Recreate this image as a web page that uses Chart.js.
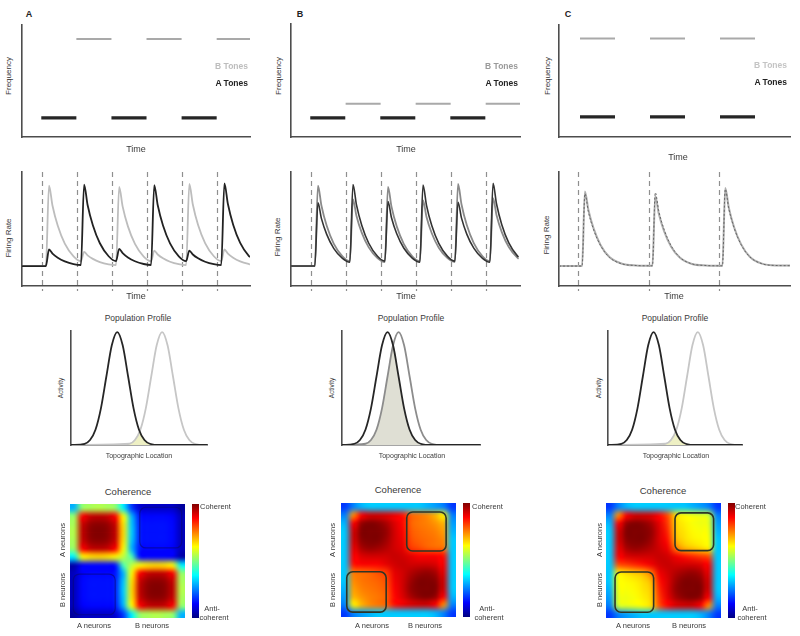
<!DOCTYPE html>
<html>
<head>
<meta charset="utf-8">
<script src="https://cdn.jsdelivr.net/npm/chart.js@4.4.1/dist/chart.umd.min.js"></script>
<style>
body { margin: 0; background: #fff; }
#fig { position: relative; width: 800px; height: 636px; overflow: hidden; font-family: "Liberation Sans", Arial, sans-serif; color: #3a3a3a; background: #fff; }
#fig canvas { position: absolute; }
.lbl { position: absolute; white-space: nowrap; transform: translate(-50%, -50%); line-height: 1; }
.rot { transform: translate(-50%, -50%) rotate(-90deg); }
.right { transform: translate(-100%, -50%); }
</style>
</head>
<body>
<div id="fig"></div>
<script>
// ---- tone sequences (time units, frequency 0-10) ----
const toneLength = 1;
const aTonesA = [0.55, 2.55, 4.55];
const bTonesA = [1.55, 3.55, 5.55];
const freqA = [1.7, 8.75];          // A tones, B tones
const aTonesB = [0.55, 2.55, 4.55];
const bTonesB = [1.56, 3.56, 5.56];
const freqB = [1.7, 2.95];
const aTonesC = [0.6, 2.6, 4.6];
const bTonesC = [0.6, 2.6, 4.6];
const freqC = [1.8, 8.8];

// ---- firing rate traces ----
const onsetsAB = [0.57, 1.57, 2.57, 3.57, 4.57, 5.57];
const onsetsC = [0.55, 2.56, 4.56];
const rateTimeAB = [0,
  0.68, 0.77, 0.87, 1.02, 1.22, 1.47,
  1.68, 1.77, 1.87, 2.02, 2.22, 2.47,
  2.68, 2.77, 2.87, 3.02, 3.22, 3.47,
  3.68, 3.77, 3.87, 4.02, 4.22, 4.47,
  4.68, 4.77, 4.87, 5.02, 5.22, 5.47,
  5.68, 5.77, 5.87, 6.02, 6.22, 6.47,
  6.5];
const rateBlackA = [1.75,
  1.75, 3.2, 2.84, 2.48, 2.16, 1.92,
  1.84, 8.9, 7.11, 5.33, 3.75, 2.61,
  2.18, 3.25, 2.88, 2.5, 2.17, 1.93,
  1.84, 8.85, 7.08, 5.3, 3.74, 2.6,
  2.18, 3.1, 2.76, 2.43, 2.13, 1.91,
  1.83, 9.0, 7.19, 5.38, 3.78, 2.62,
  2.55];
const rateGrayA = [1.75,
  1.75, 8.8, 7.04, 5.28, 3.72, 2.6,
  2.17, 3.0, 2.69, 2.38, 2.1, 1.9,
  1.83, 8.7, 6.96, 5.23, 3.7, 2.58,
  2.17, 3.1, 2.76, 2.43, 2.13, 1.91,
  1.83, 8.95, 7.15, 5.35, 3.77, 2.61,
  2.18, 3.2, 2.84, 2.48, 2.16, 1.92,
  1.9];
const rateBlackB = [1.75,
  1.75, 7.3, 5.91, 4.53, 3.3, 2.42,
  2.08, 8.9, 7.11, 5.33, 3.75, 2.61,
  2.18, 7.4, 5.99, 4.58, 3.33, 2.43,
  2.09, 8.85, 7.08, 5.3, 3.74, 2.6,
  2.18, 7.35, 5.95, 4.55, 3.32, 2.42,
  2.08, 9.0, 7.19, 5.38, 3.78, 2.62,
  2.55];
const rateGrayB = [1.75,
  1.75, 8.8, 7.04, 5.28, 3.72, 2.6,
  2.17, 7.6, 6.14, 4.68, 3.39, 2.45,
  2.1, 8.7, 6.96, 5.23, 3.7, 2.58,
  2.17, 7.5, 6.06, 4.63, 3.36, 2.44,
  2.1, 8.95, 7.15, 5.35, 3.77, 2.61,
  2.18, 7.7, 6.21, 4.73, 3.42, 2.46,
  2.4];
const rateTimeC = [0,
  0.66, 0.74, 0.84, 0.99, 1.19, 1.44, 1.8, 2.2,
  2.67, 2.75, 2.85, 3.0, 3.2, 3.45, 3.8, 4.2,
  4.67, 4.75, 4.85, 5.0, 5.2, 5.45, 5.8, 6.2,
  6.6];
const rateDarkC = [1.75,
  1.75, 8.1, 6.51, 4.93, 3.53, 2.51, 1.94, 1.8,
  1.77, 8.2, 6.59, 4.98, 3.56, 2.52, 1.94, 1.8,
  1.77, 8.5, 6.81, 5.13, 3.64, 2.56, 1.95, 1.8,
  1.78];
const rateGrayC = [1.75,
  1.75, 8.3, 6.66, 5.03, 3.58, 2.54, 1.95, 1.8,
  1.77, 7.9, 6.36, 4.83, 3.47, 2.49, 1.93, 1.8,
  1.77, 8.6, 6.89, 5.18, 3.67, 2.57, 1.96, 1.8,
  1.79];

// ---- population profiles (location 0-100, activity 0-1) ----
const activity = [0, 0.011, 0.044, 0.135, 0.325, 0.607, 0.883, 1, 0.883, 0.607, 0.325, 0.135, 0.044, 0.011, 0, 0];
const blackLocA = [0, 10, 14, 18, 22, 26, 30, 34, 38, 42, 46, 50, 54, 58, 66, 100];
const grayLocA = [0, 43, 47, 51, 55, 59, 63, 67, 71, 75, 79, 83, 87, 91, 99, 100];
const overlapLocA = [40, 44, 48, 50.5, 53, 57, 61];
const overlapActA = [0.003, 0.016, 0.066, 0.119, 0.066, 0.016, 0.003];
const blackLocB = [0, 9, 13, 17, 21, 25, 29, 33, 37, 41, 45, 49, 53, 57, 65, 100];
const grayLocB = [0, 17, 21, 25, 29, 33, 37, 41, 45, 49, 53, 57, 61, 65, 73, 100];
const overlapLocB = [9, 13, 17, 21, 25, 29, 33, 37, 41, 45, 49, 53, 57, 61, 65];
const overlapActB = [0, 0.002, 0.011, 0.044, 0.135, 0.325, 0.607, 0.883, 0.607, 0.325, 0.135, 0.044, 0.011, 0.002, 0];
const blackLocC = [0, 10, 14, 18, 22, 26, 30, 34, 38, 42, 46, 50, 54, 58, 66, 100];
const grayLocC = [0, 43, 47, 51, 55, 59, 63, 67, 71, 75, 79, 83, 87, 91, 99, 100];
const overlapLocC = [40, 44, 48, 50.5, 53, 57, 61];
const overlapActC = [0.003, 0.016, 0.066, 0.119, 0.066, 0.016, 0.003];

// ---- coherence matrices (0 = anti-coherent, 1 = coherent) ----
const coherenceA = [
  [.30,.52,.54,.55,.54,.52,.36,.18,.08,.07,.07,.07,.07,.03],
  [.52,.88,.93,.94,.93,.88,.62,.30,.14,.13,.13,.13,.12,.06],
  [.54,.93,.98,.99,.98,.93,.65,.32,.15,.14,.14,.14,.13,.06],
  [.55,.94,.99,1.0,.99,.94,.66,.33,.15,.14,.14,.14,.13,.06],
  [.54,.93,.98,.99,.98,.93,.65,.32,.15,.14,.14,.14,.13,.06],
  [.52,.88,.93,.94,.93,.88,.62,.30,.14,.13,.13,.13,.12,.06],
  [.36,.62,.65,.66,.65,.62,.56,.45,.14,.13,.13,.13,.12,.04],
  [.04,.12,.13,.13,.13,.14,.45,.56,.62,.65,.66,.65,.62,.36],
  [.06,.12,.13,.13,.13,.14,.30,.62,.88,.93,.94,.93,.88,.52],
  [.06,.13,.14,.14,.14,.15,.32,.65,.93,.98,.99,.98,.93,.54],
  [.06,.13,.14,.14,.14,.15,.33,.66,.94,.99,1.0,.99,.94,.55],
  [.06,.13,.14,.14,.14,.15,.32,.65,.93,.98,.99,.98,.93,.54],
  [.06,.12,.13,.13,.13,.14,.30,.62,.88,.93,.94,.93,.88,.52],
  [.03,.07,.07,.07,.07,.08,.18,.36,.52,.54,.55,.54,.52,.30]
];
const coherenceB = [
  [.18,.25,.30,.32,.32,.32,.32,.32,.32,.32,.30,.28,.25,.18],
  [.25,.74,.88,.92,.92,.91,.89,.86,.78,.76,.74,.70,.64,.25],
  [.30,.88,.98,1.0,.99,.96,.91,.87,.78,.76,.75,.73,.70,.28],
  [.32,.92,1.0,1.0,1.0,.98,.92,.88,.79,.77,.76,.75,.72,.30],
  [.32,.92,.99,1.0,1.0,.97,.92,.89,.80,.78,.77,.76,.74,.32],
  [.32,.90,.96,.98,.97,.95,.92,.90,.82,.80,.78,.77,.76,.32],
  [.32,.88,.91,.92,.92,.92,.93,.92,.90,.88,.88,.88,.86,.32],
  [.32,.86,.88,.88,.88,.90,.92,.93,.92,.92,.92,.91,.88,.32],
  [.32,.76,.77,.78,.80,.82,.90,.92,.95,.97,.98,.96,.90,.32],
  [.32,.74,.76,.77,.78,.80,.89,.92,.97,1.0,1.0,.99,.92,.32],
  [.30,.72,.75,.76,.77,.79,.88,.92,.98,1.0,1.0,1.0,.92,.32],
  [.28,.70,.73,.75,.76,.78,.87,.91,.96,.99,1.0,.98,.88,.30],
  [.25,.64,.70,.74,.76,.78,.86,.89,.91,.92,.92,.88,.74,.25],
  [.18,.25,.28,.30,.32,.32,.32,.32,.32,.32,.32,.30,.25,.18]
];
const coherenceC = [
  [.18,.25,.30,.32,.32,.32,.32,.32,.32,.32,.30,.28,.25,.18],
  [.25,.74,.88,.92,.92,.91,.87,.80,.66,.63,.61,.60,.58,.25],
  [.30,.88,.98,1.0,.99,.96,.90,.82,.67,.64,.62,.61,.60,.28],
  [.32,.92,1.0,1.0,1.0,.98,.91,.84,.68,.65,.63,.62,.61,.30],
  [.32,.92,.99,1.0,1.0,.97,.91,.86,.70,.66,.64,.63,.62,.32],
  [.32,.90,.96,.98,.97,.95,.92,.89,.76,.70,.68,.66,.64,.32],
  [.32,.88,.91,.92,.92,.92,.93,.92,.89,.86,.84,.82,.80,.32],
  [.32,.80,.82,.84,.86,.89,.92,.93,.92,.92,.92,.91,.88,.32],
  [.32,.64,.66,.68,.70,.76,.89,.92,.95,.97,.98,.96,.90,.32],
  [.32,.62,.63,.64,.66,.70,.86,.91,.97,1.0,1.0,.99,.92,.32],
  [.30,.61,.62,.63,.65,.68,.84,.91,.98,1.0,1.0,1.0,.92,.32],
  [.28,.60,.61,.62,.64,.67,.82,.90,.96,.99,1.0,.98,.88,.30],
  [.25,.58,.60,.61,.63,.66,.80,.87,.91,.92,.92,.88,.74,.25],
  [.18,.25,.28,.30,.32,.32,.32,.32,.32,.32,.32,.30,.25,.18]
];
// outlined blocks, in matrix cells: [x0, x1, y0, y1]
const boxesA = [[8.5, 13.6, 0.4, 5.4], [0.4, 5.5, 8.6, 13.6]];
const boxesB = [[8.0, 12.8, 1.1, 5.9], [0.7, 5.5, 8.45, 13.4]];
const boxesC = [[8.4, 13.1, 1.2, 5.8], [1.1, 5.8, 8.4, 13.3]];

const fig = document.getElementById('fig');

function jet(v) {
  const c = t => Math.round(255 * Math.max(0, Math.min(1, t)));
  return [c(1.5 - Math.abs(4 * v - 3)), c(1.5 - Math.abs(4 * v - 2)), c(1.5 - Math.abs(4 * v - 1))];
}

function label(text, x, y, size, opts = {}) {
  const d = document.createElement('div');
  d.className = 'lbl' + (opts.rot ? ' rot' : '') + (opts.right ? ' right' : '');
  d.textContent = text;
  d.style.left = x + 'px';
  d.style.top = y + 'px';
  d.style.fontSize = size + 'px';
  if (opts.bold) d.style.fontWeight = 'bold';
  if (opts.color) d.style.color = opts.color;
  fig.appendChild(d);
}

// area = [left, top, width, height] of the plot area on the page
function addChart(area, config, pad) {
  const p = Object.assign({ l: 5, r: 5, t: 5, b: 7 }, pad);
  const cv = document.createElement('canvas');
  const w = area[2] + p.l + p.r, h = area[3] + p.t + p.b;
  cv.width = w; cv.height = h;
  cv.style.left = (area[0] - p.l) + 'px';
  cv.style.top = (area[1] - p.t) + 'px';
  cv.style.width = w + 'px';
  cv.style.height = h + 'px';
  fig.appendChild(cv);
  const o = config.options;
  o.responsive = false;
  o.animation = false;
  o.layout = { padding: { left: p.l, right: p.r, top: p.t, bottom: p.b } };
  o.plugins = Object.assign({ legend: { display: false }, tooltip: { enabled: false } }, o.plugins);
  o.elements = { point: { radius: 0 }, line: { tension: 0, borderCapStyle: 'butt' } };
  return new Chart(cv, config);
}

function axisOpts(min, max) {
  return {
    type: 'linear', min: min, max: max,
    ticks: { display: false },
    grid: { display: false, drawTicks: false },
    border: { display: true, color: '#4d4d4d', width: 1.6 }
  };
}

function pairs(xs, ys) {
  return xs.map((x, i) => ({ x: x, y: ys[i] }));
}

function toneSegments(starts, freq) {
  const pts = [];
  starts.forEach(s => {
    pts.push({ x: s, y: freq }, { x: s + toneLength, y: freq }, { x: s + toneLength, y: null });
  });
  return pts;
}

function toneChart(area, xMax, aStarts, bStarts, freqs) {
  addChart(area, {
    type: 'line',
    data: { datasets: [
      { data: toneSegments(aStarts, freqs[0]), borderColor: '#262626', borderWidth: 3.2, spanGaps: false },
      { data: toneSegments(bStarts, freqs[1]), borderColor: '#a9a9a9', borderWidth: 2, spanGaps: false }
    ] },
    options: { scales: { x: axisOpts(0, xMax), y: axisOpts(0, 10) } }
  });
}

const onsetLines = {
  id: 'onsetLines',
  beforeDatasetsDraw(chart, args, opts) {
    const { ctx, chartArea, scales: { x } } = chart;
    ctx.save();
    ctx.strokeStyle = '#8f8f8f';
    ctx.lineWidth = 1.2;
    ctx.setLineDash([5, 4]);
    opts.times.forEach(t => {
      const px = Math.round(x.getPixelForValue(t)) + 0.5;
      ctx.beginPath();
      ctx.moveTo(px, chartArea.top);
      ctx.lineTo(px, chartArea.bottom + 5);
      ctx.stroke();
    });
    ctx.restore();
  }
};

function rateChart(area, xMax, onsets, times, top, bottom, topStyle, bottomStyle) {
  addChart(area, {
    type: 'line',
    data: { datasets: [
      Object.assign({ data: pairs(times, top), cubicInterpolationMode: 'monotone' }, topStyle),
      Object.assign({ data: pairs(times, bottom), cubicInterpolationMode: 'monotone' }, bottomStyle)
    ] },
    options: {
      scales: { x: axisOpts(0, xMax), y: axisOpts(0, 10) },
      plugins: { onsetLines: { times: onsets } }
    },
    plugins: [onsetLines]
  });
}

function profileChart(area, blackLoc, grayLoc, overlapLoc, overlapAct, grayColor, fillColor) {
  addChart(area, {
    type: 'line',
    data: { datasets: [
      { data: pairs(blackLoc, activity), borderColor: '#262626', borderWidth: 1.8, cubicInterpolationMode: 'monotone' },
      { data: pairs(grayLoc, activity), borderColor: grayColor, borderWidth: 1.8, cubicInterpolationMode: 'monotone' },
      { data: pairs(overlapLoc, overlapAct), borderWidth: 0, fill: 'origin', backgroundColor: fillColor, cubicInterpolationMode: 'monotone' }
    ] },
    options: { scales: { x: axisOpts(0, 100), y: axisOpts(0, 1.01) } }
  });
}

const heatmap = {
  id: 'heatmap',
  beforeDatasetsDraw(chart, args, opts) {
    const { ctx, scales: { x, y } } = chart;
    const cells = chart.data.datasets[0].data;
    const n = opts.n;
    const off = document.createElement('canvas');
    off.width = n; off.height = n;
    const octx = off.getContext('2d');
    const img = octx.createImageData(n, n);
    cells.forEach(c => {
      const k = (Math.floor(c.y) * n + Math.floor(c.x)) * 4;
      const rgb = jet(c.v);
      img.data[k] = rgb[0]; img.data[k + 1] = rgb[1]; img.data[k + 2] = rgb[2]; img.data[k + 3] = 255;
    });
    octx.putImageData(img, 0, 0);
    const x0 = x.getPixelForValue(0), x1 = x.getPixelForValue(n);
    const y0 = y.getPixelForValue(0), y1 = y.getPixelForValue(n);
    ctx.save();
    ctx.imageSmoothingEnabled = true;
    ctx.imageSmoothingQuality = 'high';
    ctx.drawImage(off, x0, y0, x1 - x0, y1 - y0);
    ctx.restore();
  },
  afterDatasetsDraw(chart, args, opts) {
    const { ctx, chartArea, scales: { x, y } } = chart;
    ctx.save();
    ctx.strokeStyle = opts.boxColor;
    ctx.lineWidth = opts.boxWidth;
    opts.boxes.forEach(b => {
      const bx = x.getPixelForValue(b[0]), by = y.getPixelForValue(b[2]);
      ctx.beginPath();
      ctx.roundRect(bx, by, x.getPixelForValue(b[1]) - bx, y.getPixelForValue(b[3]) - by, 6);
      ctx.stroke();
    });
    // colour bar
    const cx = chartArea.right + 7;
    const g = ctx.createLinearGradient(0, chartArea.top, 0, chartArea.bottom);
    for (let s = 0; s <= 8; s++) {
      const rgb = jet(1 - s / 8);
      g.addColorStop(s / 8, 'rgb(' + rgb.join(',') + ')');
    }
    ctx.fillStyle = g;
    ctx.fillRect(cx, chartArea.top, 7, chartArea.bottom - chartArea.top);
    ctx.restore();
  }
};

function heatChart(area, grid, boxes, boxColor, boxWidth) {
  const cells = [];
  grid.forEach((row, i) => row.forEach((v, j) => cells.push({ x: j + 0.5, y: i + 0.5, v: v })));
  addChart(area, {
    type: 'scatter',
    data: { datasets: [{ data: cells, pointRadius: 0 }] },
    options: {
      scales: {
        x: { type: 'linear', min: 0, max: grid.length, display: false },
        y: { type: 'linear', min: 0, max: grid.length, reverse: true, display: false }
      },
      plugins: { heatmap: { n: grid.length, boxes: boxes, boxColor: boxColor, boxWidth: boxWidth } }
    },
    plugins: [heatmap]
  }, { r: 20 });
}

// ---- row 1: tone sequences ----
toneChart([22, 25, 228, 112], 6.5, aTonesA, bTonesA, freqA);
toneChart([291, 24, 229, 113], 6.54, aTonesB, bTonesB, freqB);
toneChart([559, 25, 231, 112], 6.6, aTonesC, bTonesC, freqC);

// ---- row 2: firing rates ----
const dark = { borderColor: '#222', borderWidth: 1.8 };
const light = { borderColor: '#bdbdbd', borderWidth: 1.8 };
rateChart([22, 172, 228, 114], 6.5, onsetsAB, rateTimeAB, rateBlackA, rateGrayA, dark, light);
rateChart([291, 172, 229, 114], 6.54, onsetsAB, rateTimeAB, rateBlackB, rateGrayB,
  { borderColor: '#333', borderWidth: 1.6 }, { borderColor: '#8a8a8a', borderWidth: 1.8 });
rateChart([559, 172, 231, 114], 6.6, onsetsC, rateTimeC, rateDarkC, rateGrayC,
  { borderColor: '#666', borderWidth: 1, borderDash: [2, 2] }, { borderColor: '#adadad', borderWidth: 2 });

// ---- row 3: population profiles ----
profileChart([71, 331, 136, 114], blackLocA, grayLocA, overlapLocA, overlapActA, '#c6c6c6', '#eef0c4');
profileChart([342, 331, 138, 114], blackLocB, grayLocB, overlapLocB, overlapActB, '#8c8c8c', '#dfdfd4');
profileChart([608, 331, 134, 114], blackLocC, grayLocC, overlapLocC, overlapActC, '#c6c6c6', '#eef0c4');

// ---- row 4: coherence maps ----
heatChart([70, 504, 115, 114], coherenceA, boxesA, 'rgba(10,10,110,0.55)', 1.2);
heatChart([341, 503, 115, 114], coherenceB, boxesB, '#2e3526', 1.6);
heatChart([606, 503, 115, 115], coherenceC, boxesC, '#2e3526', 1.6);

// ---- text ----
label('A', 29, 14, 9, { bold: true, color: '#222' });
label('B', 300, 14, 9, { bold: true, color: '#222' });
label('C', 568, 14, 9, { bold: true, color: '#222' });

[[9, 136, 149], [279, 406, 149], [548, 678, 157]].forEach(p => {
  label('Frequency', p[0], 76, 8, { rot: true });
  label('Time', p[1], p[2], 9);
});
label('B Tones', 248, 66, 8.5, { right: true, bold: true, color: '#bdbdbd' });
label('A Tones', 248, 83, 8.5, { right: true, bold: true, color: '#222' });
label('B Tones', 518, 66, 8.5, { right: true, bold: true, color: '#9a9a9a' });
label('A Tones', 518, 83, 8.5, { right: true, bold: true, color: '#222' });
label('B Tones', 787, 65, 8.5, { right: true, bold: true, color: '#c4c4c4' });
label('A Tones', 787, 82, 8.5, { right: true, bold: true, color: '#222' });

[[9, 238, 136], [278, 237, 406], [547, 235, 674]].forEach(p => {
  label('Firing Rate', p[0], p[1], 8, { rot: true });
  label('Time', p[2], 296, 9);
});

[[138, 61], [411, 332], [675, 599]].forEach(p => {
  label('Population Profile', p[0], 318, 8.5);
  label('Activity', p[1], 388, 6.5, { rot: true });
  label('Topographic Location', p[0] + 1, 455, 7);
});

[
  [128, 492, 94, 152, 63, 200, 212],
  [398, 490, 372, 425, 333, 472, 487],
  [663, 491, 633, 689, 600, 735, 750]
].forEach(p => {
  label('Coherence', p[0], p[1], 9.5);
  label('A neurons', p[2], 626, 7.5);
  label('B neurons', p[3], 626, 7.5);
  label('A neurons', p[4], 540, 7.5, { rot: true });
  label('B neurons', p[4], 590, 7.5, { rot: true });
  const d = document.createElement('div');
  d.className = 'lbl';
  d.textContent = 'Coherent';
  d.style.cssText += 'left:' + p[5] + 'px;top:507px;font-size:7.5px;transform:translate(0,-50%);';
  fig.appendChild(d);
  label('Anti-', p[6], 609, 7.5);
  label('coherent', p[6] + 2, 618, 7.5);
});
</script>
</body>
</html>
